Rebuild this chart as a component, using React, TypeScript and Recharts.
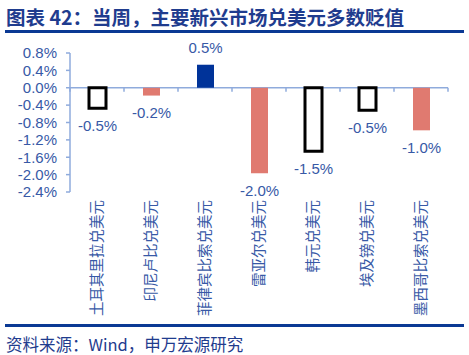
/**
 * 图表 42：当周主要新兴市场货币兑美元涨跌幅
 */

import { BarChart, Bar, XAxis, YAxis, Cell, LabelList, ReferenceLine } from 'recharts';

const categories = [
  '土耳其里拉兑美元',
  '印尼卢比兑美元',
  '菲律宾比索兑美元',
  '雷亚尔兑美元',
  '韩元兑美元',
  '埃及镑兑美元',
  '墨西哥比索兑美元',
];

const changes = [-0.47, -0.18, 0.53, -1.97, -1.46, -0.52, -0.98];

const yTicks = [0.8, 0.4, 0, -0.4, -0.8, -1.2, -1.6, -2.0, -2.4];

// bar look by category index
const barKinds = ['outline', 'red', 'blue', 'red', 'outline', 'outline', 'red'];

const data = categories.map((name, i) => ({ name, value: changes[i] }));

const TEXT_BLUE = '#3759a6';
const TITLE_BLUE = '#1f3c8e';
const AXIS_BLUE = '#8fabdc';
const FONT = '"Liberation Sans", Arial, "Noto Sans CJK SC", sans-serif';
const CJK_FONT = '"Noto Sans CJK SC", "Liberation Sans", sans-serif';

const kindStyle = (kind: string) => {
  if (kind === 'outline') return { fill: '#ffffff', stroke: '#000000', strokeWidth: 3 };
  if (kind === 'blue') return { fill: '#003399', stroke: 'none', strokeWidth: 0 };
  return { fill: '#e07a70', stroke: 'none', strokeWidth: 0 };
};

const pct = (v: number) => `${v.toFixed(1)}%`;

interface TickProps {
  x?: number;
  y?: number;
  payload?: { value: string };
}

const VerticalTick = ({ x = 0, y = 0, payload }: TickProps) => (
  <text
    x={x}
    y={y}
    transform={`rotate(-90, ${x}, ${y})`}
    textAnchor="end"
    dy="0.36em"
    fill={TEXT_BLUE}
    fontSize={14.5}
    fontFamily={CJK_FONT}
  >
    {payload?.value}
  </text>
);

interface LineShapeProps {
  x1?: number;
  x2?: number;
  y1?: number;
  y2?: number;
}

// zero line with the category boundary tick marks hanging under it
const ZeroLine = ({ x1 = 0, x2 = 0, y1 = 0 }: LineShapeProps) => {
  const step = (x2 - x1) / categories.length;
  return (
    <g>
      <line x1={x1} x2={x2} y1={y1} y2={y1} stroke={AXIS_BLUE} strokeWidth={1.5} />
      {categories.concat('').map((_, i) => (
        <line
          key={i}
          x1={x1 + i * step}
          x2={x1 + i * step}
          y1={y1}
          y2={y1 + 4}
          stroke={AXIS_BLUE}
          strokeWidth={1.5}
        />
      ))}
    </g>
  );
};

export default function App() {
  return (
    <div
      style={{
        position: 'fixed',
        left: 0,
        top: 0,
        width: 469,
        height: 355,
        background: '#ffffff',
        overflow: 'hidden',
      }}
    >
      <div
        style={{
          position: 'absolute',
          left: 6,
          top: 4,
          fontFamily: CJK_FONT,
          fontWeight: 700,
          fontSize: 19.5,
          color: TITLE_BLUE,
          whiteSpace: 'nowrap',
          lineHeight: '26px',
        }}
      >
        图表 42：当周，主要新兴市场兑美元多数贬值
      </div>
      <div style={{ position: 'absolute', left: 5, top: 30, width: 459, height: 2.5, background: '#0b3994' }} />

      <div style={{ position: 'absolute', left: 0, top: 0 }}>
        <BarChart
          width={469}
          height={324}
          data={data}
          margin={{ top: 53, right: 21, bottom: 0, left: 8 }}
          barCategoryGap={0}
        >
          <XAxis
            dataKey="name"
            axisLine={false}
            tickLine={false}
            interval={0}
            height={132}
            tick={<VerticalTick />}
          />
          <YAxis
            domain={[-2.4, 0.8]}
            ticks={yTicks}
            interval={0}
            width={62}
            tickFormatter={pct}
            axisLine={{ stroke: AXIS_BLUE, strokeWidth: 1.5 }}
            tickLine={{ stroke: AXIS_BLUE, strokeWidth: 1.5 }}
            tickSize={4}
            tickMargin={9}
            tick={{ fill: TEXT_BLUE, fontSize: 15, fontFamily: FONT }}
          />
          <ReferenceLine y={0} shape={<ZeroLine />} zIndex={50} />
          <Bar dataKey="value" barSize={17} isAnimationActive={false} zIndex={400}>
            {data.map((d, i) => {
              const s = kindStyle(barKinds[i]);
              return <Cell key={d.name} fill={s.fill} stroke={s.stroke} strokeWidth={s.strokeWidth} />;
            })}
            <LabelList
              dataKey="value"
              position="top"
              offset={12}
              formatter={(v: number) => pct(v)}
              fill={TEXT_BLUE}
              fontSize={15}
              fontFamily={FONT}
            />
          </Bar>
        </BarChart>
      </div>

      <div style={{ position: 'absolute', left: 5, top: 324, width: 459, height: 2.5, background: '#0b3994' }} />
      <div
        style={{
          position: 'absolute',
          left: 6,
          top: 333,
          fontFamily: CJK_FONT,
          fontSize: 16.5,
          color: TITLE_BLUE,
          whiteSpace: 'nowrap',
          lineHeight: '22px',
        }}
      >
        资料来源：Wind，申万宏源研究
      </div>
    </div>
  );
}
